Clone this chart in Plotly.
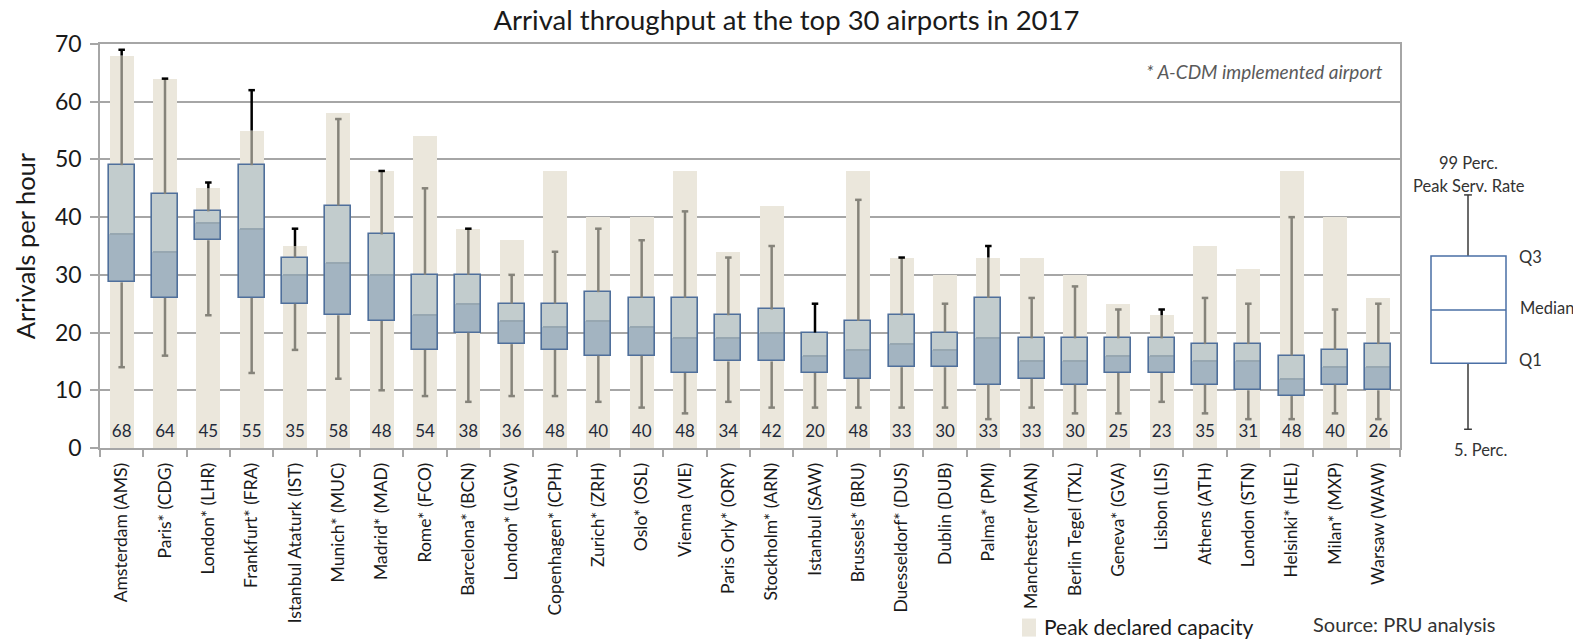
import plotly.graph_objects as go

airports = ["Amsterdam (AMS)", "Paris* (CDG)", "London* (LHR)", "Frankfurt* (FRA)",
            "Istanbul Ataturk (IST)", "Munich* (MUC)", "Madrid* (MAD)", "Rome* (FCO)",
            "Barcelona* (BCN)", "London* (LGW)", "Copenhagen* (CPH)", "Zurich* (ZRH)",
            "Oslo* (OSL)", "Vienna (VIE)", "Paris Orly* (ORY)", "Stockholm* (ARN)",
            "Istanbul (SAW)", "Brussels* (BRU)", "Duesseldorf* (DUS)", "Dublin (DUB)",
            "Palma* (PMI)", "Manchester (MAN)", "Berlin Tegel (TXL)", "Geneva* (GVA)",
            "Lisbon (LIS)", "Athens (ATH)", "London (STN)", "Helsinki* (HEL)",
            "Milan* (MXP)", "Warsaw (WAW)"]
capacity = [68, 64, 45, 55, 35, 58, 48, 54, 38, 36, 48, 40, 40, 48, 34, 42, 20, 48, 33, 30,
            33, 33, 30, 25, 23, 35, 31, 48, 40, 26]
p99 = [69, 64, 46, 62, 38, 57, 48, 45, 38, 30, 34, 38, 36, 41, 33, 35, 25, 43, 33, 25,
       35, 26, 28, 24, 24, 26, 25, 40, 24, 25]
q3 = [49, 44, 41, 49, 33, 42, 37, 30, 30, 25, 25, 27, 26, 26, 23, 24, 20, 22, 23, 20,
      26, 19, 19, 19, 19, 18, 18, 16, 17, 18]
median = [37, 34, 39, 38, 30, 32, 30, 23, 25, 22, 21, 22, 21, 19, 19, 20, 16, 17, 18, 17,
          19, 15, 15, 16, 16, 15, 15, 12, 14, 14]
q1 = [28.7, 26, 36, 26, 25, 23, 22, 17, 20, 18, 17, 16, 16, 13, 15, 15, 13, 12, 14, 14,
      11, 12, 11, 13, 13, 11, 10, 9, 11, 10]
p5 = [14, 16, 23, 13, 17, 12, 10, 9, 8, 9, 9, 8, 7, 6, 8, 7, 7, 7, 7, 7,
      5, 7, 6, 6, 8, 6, 5, 5, 6, 5]

FONT = "Lato"
BEIGE = "#ebe7dc"
UPPER = "#c2cccd"
LOWER = "#a3b4c1"
MED = "#97a7b1"
BORDER = "#4f6f9b"
WGREY = "#85837a"
GRID = "#a6a6a6"
CAPW = 0.075  # half width of whisker caps (category units)

x = list(range(len(airports)))
n = len(x)

fig = go.Figure()

# Peak declared capacity bars
fig.add_trace(go.Bar(x=x, y=capacity, width=0.56, marker=dict(color=BEIGE, line=dict(width=0)),
                     name="Peak declared capacity", showlegend=False, hoverinfo="skip"))
# lower half of box (Q1 -> median)
fig.add_trace(go.Bar(x=x, y=[m - a for m, a in zip(median, q1)], base=q1, width=0.6,
                     marker=dict(color=LOWER, line=dict(width=0)), showlegend=False))
# upper half of box (median -> Q3)
fig.add_trace(go.Bar(x=x, y=[b - m for b, m in zip(q3, median)], base=median, width=0.6,
                     marker=dict(color=UPPER, line=dict(width=0)), showlegend=False))
# median band
fig.add_trace(go.Bar(x=x, y=[0.35] * n, base=[m - 0.175 for m in median], width=0.56,
                     marker=dict(color=MED, line=dict(width=0)), showlegend=False))
# box outline
fig.add_trace(go.Bar(x=x, y=[b - a for b, a in zip(q3, q1)], base=q1, width=0.6,
                     marker=dict(color="rgba(0,0,0,0)", line=dict(color=BORDER, width=1.6)),
                     showlegend=False))

# whiskers as line segments
gx, gy, bx, by = [], [], [], []
for i in x:
    # lower whisker + cap
    gx += [i, i, None, i - CAPW, i + CAPW, None]
    gy += [q1[i], p5[i], None, p5[i], p5[i], None]
    if p99[i] < capacity[i]:
        gx += [i, i, None, i - CAPW, i + CAPW, None]
        gy += [q3[i], p99[i], None, p99[i], p99[i], None]
    else:
        gx += [i, i, None]
        gy += [q3[i], capacity[i], None]
        bx += [i, i, None, i - CAPW, i + CAPW, None]
        by += [capacity[i], p99[i], None, p99[i], p99[i], None]

fig.add_trace(go.Scatter(x=gx, y=gy, mode="lines", line=dict(color=WGREY, width=2.5),
                         showlegend=False, hoverinfo="skip"))
fig.add_trace(go.Scatter(x=bx, y=by, mode="lines", line=dict(color="#000000", width=2.5),
                         showlegend=False, hoverinfo="skip"))

# capacity labels
fig.add_trace(go.Scatter(x=x, y=[2.7] * n, mode="text", text=[str(c) for c in capacity],
                         textfont=dict(family=FONT, size=17, color="#1f2a3a"),
                         showlegend=False, hoverinfo="skip"))

fig.update_layout(
    width=1573, height=639,
    margin=dict(l=100, r=173, t=44, b=191),
    paper_bgcolor="white", plot_bgcolor="white",
    barmode="overlay", bargap=0,
    font=dict(family=FONT, color="#222222"),
    title=dict(text="Arrival throughput at the top 30 airports in 2017", x=0.5, xref="container",
               xanchor="center", y=0.968, yanchor="middle",
               font=dict(family=FONT, size=27.5, color="#1a1a1a")),
    showlegend=False,
)

fig.update_xaxes(range=[-0.5, n - 0.5], tickmode="array", tickvals=x, ticktext=airports,
                 tickangle=-90, ticks="", showgrid=False, zeroline=False, automargin=False,
                 showline=True, linecolor=GRID, linewidth=1.5, mirror=True,
                 ticklabelstandoff=6,
                 tickfont=dict(family=FONT, size=17.5, color="#1a1a1a"),
                 minor=dict(tickmode="array", tickvals=[i - 0.5 for i in range(n + 1)],
                            ticks="outside", ticklen=7, tickcolor=GRID, tickwidth=1.5,
                            showgrid=False))
fig.update_yaxes(range=[0, 70], tickvals=[0, 10, 20, 30, 40, 50, 60, 70], automargin=False,
                 showgrid=True, gridcolor=GRID, gridwidth=1.5, zeroline=False,
                 showline=True, linecolor=GRID, linewidth=1.5, mirror=True,
                 ticks="outside", ticklen=8, tickcolor=GRID, tickwidth=1.5,
                 ticklabelstandoff=4,
                 tickfont=dict(family=FONT, size=23, color="#1a1a1a"),
                 title=dict(text="Arrivals per hour", font=dict(family=FONT, size=25.5, color="#1a1a1a"),
                            standoff=12))


def px(v):
    return (v - 100) / 1300.0


def py(v):
    return (447.7 - v) / 403.4


# note inside plot
fig.add_annotation(text="<i>* A-CDM implemented airport</i>", xref="paper", yref="paper",
                   x=px(1385), y=py(72), xanchor="right", yanchor="middle", showarrow=False,
                   font=dict(family=FONT, size=19, color="#5a5a5a"))

# legend for capacity (swatch + label)
fig.add_shape(type="rect", xref="paper", yref="paper", x0=px(1022), x1=px(1036),
              y0=py(636), y1=py(618), line=dict(width=0), fillcolor=BEIGE)
fig.add_annotation(text="Peak declared capacity", xref="paper", yref="paper",
                   x=px(1042), y=py(626), xanchor="left", yanchor="middle", showarrow=False,
                   font=dict(family=FONT, size=21, color="#1a1a1a"))

# source
fig.add_annotation(text="Source: PRU analysis", xref="paper", yref="paper",
                   x=px(1311), y=py(623), xanchor="left", yanchor="middle", showarrow=False,
                   font=dict(family=FONT, size=20, color="#333333"))

# explanatory box-plot key
kx0, kx1, kxc = px(1431), px(1506), px(1468)
ktop, kq3, kmed, kq1, kbot = py(195), py(256), py(310), py(363), py(429)
KEY = "#4a6fa5"
DARK = "#3a3a3a"
shapes = [
    dict(type="line", xref="paper", yref="paper", x0=kxc, x1=kxc, y0=kq3, y1=ktop,
         line=dict(color=DARK, width=1.5)),
    dict(type="line", xref="paper", yref="paper", x0=kxc, x1=kxc, y0=kbot, y1=kq1,
         line=dict(color=DARK, width=1.5)),
    dict(type="line", xref="paper", yref="paper", x0=kxc - 0.003, x1=kxc + 0.003, y0=ktop, y1=ktop,
         line=dict(color=DARK, width=1.5)),
    dict(type="line", xref="paper", yref="paper", x0=kxc - 0.003, x1=kxc + 0.003, y0=kbot, y1=kbot,
         line=dict(color=DARK, width=1.5)),
    dict(type="rect", xref="paper", yref="paper", x0=kx0, x1=kx1, y0=kq1, y1=kq3,
         line=dict(color=KEY, width=1.5), fillcolor="white"),
    dict(type="line", xref="paper", yref="paper", x0=kx0, x1=kx1, y0=kmed, y1=kmed,
         line=dict(color=KEY, width=1.5)),
]
for s in shapes:
    fig.add_shape(**s)

key_font = dict(family=FONT, size=16.5, color="#333333")
for txt, xx, yy, anc in [("99 Perc.", 1468, 163, "center"),
                         ("Peak Serv. Rate", 1469, 186, "center"),
                         ("Q3", 1517, 257, "left"),
                         ("Median", 1518, 308, "left"),
                         ("Q1", 1517, 360, "left"),
                         ("5. Perc.", 1480, 450, "center")]:
    fig.add_annotation(text=txt, xref="paper", yref="paper", x=px(xx), y=py(yy),
                       xanchor=anc, yanchor="middle", showarrow=False, font=key_font)

fig.write_html("out.html")
